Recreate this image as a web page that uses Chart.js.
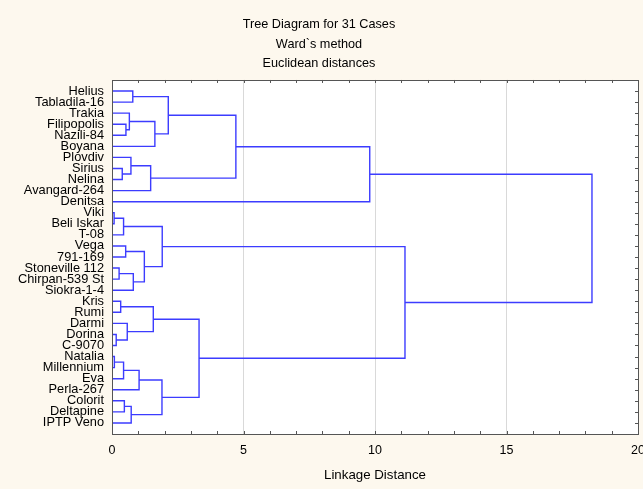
<!DOCTYPE html>
<html>
<head>
<meta charset="utf-8">
<title>Tree Diagram for 31 Cases</title>
<script src="https://cdn.jsdelivr.net/npm/chart.js@4.4.1/dist/chart.umd.min.js"></script>
<style>
  html, body { margin: 0; padding: 0; background: #fdf8ee; }
  canvas { display: block; }
</style>
</head>
<body>
<canvas id="treeChart" width="643" height="489"></canvas>
<script>
// Cases in the order they are listed, top to bottom
const cases = [
    'Helius', 'Tabladila-16', 'Trakia', 'Filipopolis', 'Nazili-84', 'Boyana',
    'Plovdiv', 'Sirius', 'Nelina', 'Avangard-264', 'Denitsa', 'Viki',
    'Beli Iskar', 'T-08', 'Vega', '791-169', 'Stoneville 112', 'Chirpan-539 St',
    'Siokra-1-4', 'Kris', 'Rumi', 'Darmi', 'Dorina', 'C-9070', 'Natalia',
    'Millennium', 'Eva', 'Perla-267', 'Colorit', 'Deltapine', 'IPTP Veno'
];

// Joining steps: index < 31 is a case, 31 + k is the cluster built at step k
const joinA = [11, 24, 22, 16, 19, 7, 31, 32, 28, 14, 3, 21, 2, 6, 39,
               0, 34, 38, 40, 44, 35, 43, 48, 37, 46, 51, 55, 57, 54, 58];
const joinB = [12, 25, 23, 17, 20, 8, 13, 26, 29, 15, 4, 33, 41, 36, 30,
               1, 18, 27, 47, 9, 42, 5, 45, 49, 52, 53, 50, 10, 56, 59];
const joinDist = [0.08, 0.09, 0.16, 0.27, 0.33, 0.39, 0.44, 0.44, 0.47, 0.52,
                  0.53, 0.58, 0.66, 0.72, 0.73, 0.79, 0.81, 1.03, 1.23, 1.47,
                  1.57, 1.63, 1.90, 1.91, 2.14, 3.31, 4.71, 9.80, 11.14, 18.25];

const xLabels = [0, 5, 10, 15, 20];
const titleLines = ['Tree Diagram for 31 Cases', 'Ward`s method', 'Euclidean distances'];

Chart.defaults.font.family = "'Liberation Sans', Arial, sans-serif";
Chart.defaults.font.size = 12;
Chart.defaults.color = '#000';

// build the bracket lines (gaps between them with null points)
const pos = cases.map((c, i) => i + 1);
const dist = cases.map(() => 0);
const treePoints = [];
joinDist.forEach((d, k) => {
    const a = joinA[k], b = joinB[k];
    treePoints.push(
        { x: dist[a], y: pos[a] },
        { x: d, y: pos[a] },
        { x: d, y: pos[b] },
        { x: dist[b], y: pos[b] },
        { x: null, y: null }
    );
    pos.push((pos[a] + pos[b]) / 2);
    dist.push(d);
});

// white plot area, frame and inward tick marks
const framePlugin = {
    id: 'frame',
    beforeDraw(chart) {
        const { ctx, chartArea: a } = chart;
        ctx.save();
        ctx.fillStyle = '#fff';
        ctx.fillRect(a.left, a.top, a.right - a.left, a.bottom - a.top);
        ctx.restore();
    },
    afterDraw(chart) {
        const { ctx, chartArea: a, scales } = chart;
        ctx.save();
        ctx.strokeStyle = '#555';
        ctx.lineWidth = 1;
        ctx.beginPath();
        for (let v = 1; v < 20; v++) {
            const px = Math.round(scales.x.getPixelForValue(v)) + 0.5;
            ctx.moveTo(px, a.bottom); ctx.lineTo(px, a.bottom - 3);
            ctx.moveTo(px, a.top); ctx.lineTo(px, a.top + 3);
        }
        for (let v = 1; v <= cases.length; v++) {
            const py = Math.round(scales.y.getPixelForValue(v)) + 0.5;
            ctx.moveTo(a.right, py); ctx.lineTo(a.right - 3, py);
        }
        ctx.stroke();
        ctx.strokeRect(Math.round(a.left) + 0.5, Math.round(a.top) + 0.5,
                       Math.round(a.right - a.left), Math.round(a.bottom - a.top));
        ctx.restore();
    }
};

new Chart(document.getElementById('treeChart'), {
    type: 'scatter',
    data: {
        datasets: [{
            data: treePoints,
            showLine: true,
            spanGaps: false,
            borderColor: '#3c3cff',
            borderWidth: 1.4,
            pointRadius: 0,
            tension: 0
        }]
    },
    options: {
        responsive: false,
        animation: false,
        layout: { padding: { left: 0, right: 5, top: 0, bottom: 0 } },
        plugins: {
            legend: { display: false },
            tooltip: { enabled: false },
            title: {
                display: true,
                text: titleLines,
                color: '#000',
                font: { size: 12.7, weight: 'normal', lineHeight: 1.535 },
                padding: { top: 15, bottom: 6.5 }
            }
        },
        scales: {
            x: {
                type: 'linear',
                min: 0,
                max: 20,
                ticks: {
                    stepSize: 1,
                    autoSkip: false,
                    maxRotation: 0,
                    padding: 9,
                    font: { size: 12.5 },
                    callback: v => xLabels.includes(v) ? v : ''
                },
                grid: {
                    drawTicks: false,
                    color: c => (c.tick && c.tick.value % 5 === 0 && c.tick.value > 0 && c.tick.value < 20)
                        ? '#d9d9d9' : 'rgba(0,0,0,0)'
                },
                border: { display: false },
                title: {
                    display: true,
                    text: 'Linkage Distance',
                    font: { size: 13.3 },
                    padding: { top: 0, bottom: 5.5 }
                },
                afterFit: s => { s.height = 55; s.paddingLeft = 0; s.paddingRight = 0; }
            },
            y: {
                type: 'linear',
                reverse: true,
                min: 0,
                max: cases.length + 1,
                afterBuildTicks: s => { s.ticks = cases.map((c, i) => ({ value: i + 1 })); },
                ticks: {
                    autoSkip: false,
                    padding: 8,
                    font: { size: 12.8 },
                    callback: v => cases[v - 1] || ''
                },
                grid: { display: false, drawTicks: false },
                border: { display: false },
                afterFit: s => { s.width = 112; s.paddingTop = 0; s.paddingBottom = 0; }
            }
        }
    },
    plugins: [framePlugin]
});
</script>
</body>
</html>
